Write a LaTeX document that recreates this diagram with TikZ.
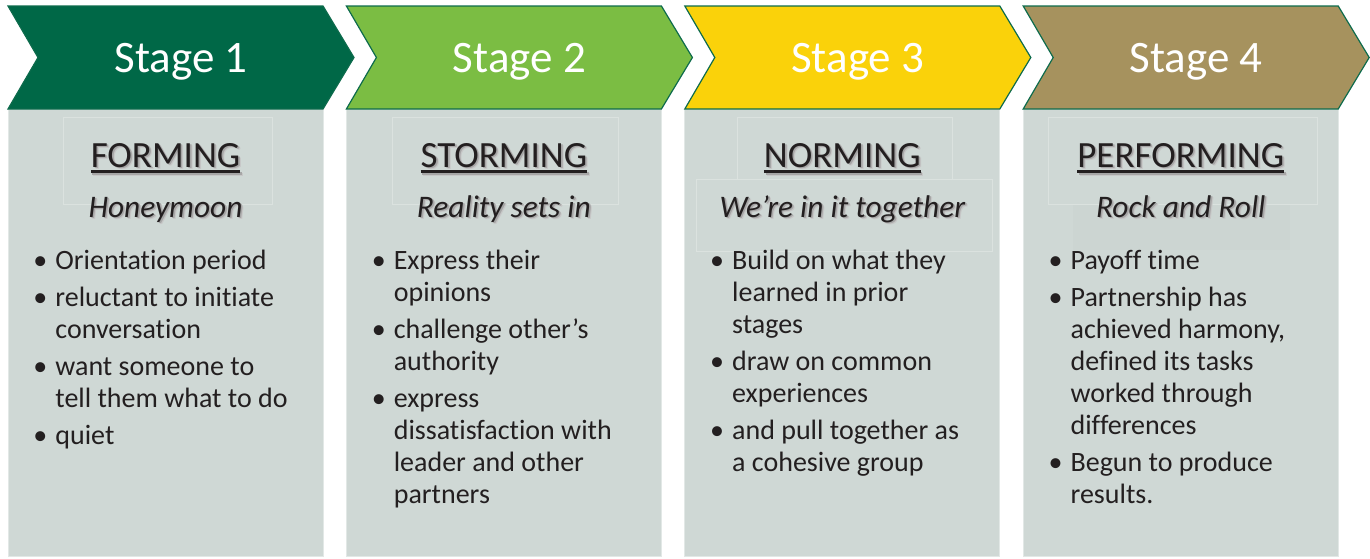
\documentclass[tikz,border=0pt]{standalone}
\usepackage{fontspec}
\setmainfont{Carlito}[Ligatures={TeX,NoCommon}]

\definecolor{stageA}{RGB}{0,104,71}
\definecolor{stageB}{RGB}{123,189,67}
\definecolor{stageC}{RGB}{250,210,10}
\definecolor{stageD}{RGB}{166,146,94}
\definecolor{edge}{RGB}{13,107,76}
\definecolor{panelgray}{RGB}{207,216,213}
\definecolor{ink}{RGB}{35,31,32}

\def\stagew{315}     % width of one column
\def\stagestep{338.4} % distance from one column to the next

% soft drop shadow behind a piece of text
\newcommand\softshadow[1]{\leavevmode
  \rlap{\kern1.3pt\raisebox{-1.3pt}{\textcolor{black!22}{#1}}}%
  \rlap{\kern0.8pt\raisebox{-0.8pt}{\textcolor{black!35}{#1}}}#1}
% thick rule under a title
\newcommand\titlerule[1]{\setbox0\hbox{#1}\rlap{\rule[-3pt]{\wd0}{1.5pt}}\box0}

% bullet points, one macro per column
\def\itemsA{\textbullet & Orientation period\\[2.5pt]
  \textbullet & reluctant to initiate\\ & conversation\\[2.5pt]
  \textbullet & want someone to\\ & tell them what to do\\[2.5pt]
  \textbullet & quiet}
\def\itemsB{\textbullet & Express their\\ & opinions\\[2.5pt]
  \textbullet & challenge other’s\\ & authority\\[2.5pt]
  \textbullet & express\\ & dissatisfaction with\\ & leader and other\\ & partners}
\def\itemsC{\textbullet & Build on what they\\ & learned in prior\\ & stages\\[2.5pt]
  \textbullet & draw on common\\ & experiences\\[2.5pt]
  \textbullet & and pull together as\\ & a cohesive group}
\def\itemsD{\textbullet & Payoff time\\[2.5pt]
  \textbullet & Partnership has\\ & achieved harmony,\\ & defined its tasks\\
    & worked through\\ & differences\\[2.5pt]
  \textbullet & Begun to produce\\ & results.}

\tikzset{
  chevron/.style={draw=edge, line width=0.6pt},
  panel/.style={fill=panelgray, draw=panelgray!60!white, line width=0.5pt},
  ghost/.style={draw=panelgray!75!white, line width=0.4pt},
  stagelabel/.style={text=white, inner sep=0, anchor=base,
    font=\fontsize{22.5}{26}\selectfont},
  phase/.style={text=ink, inner sep=0, anchor=base,
    font=\fontsize{18.5}{22}\selectfont},
  motto/.style={text=ink, inner sep=0, anchor=base,
    font=\fontsize{15.7}{18}\itshape\selectfont},
  bullets/.style={text=ink, inner sep=0, anchor=base west,
    font=\fontsize{14}{16}\selectfont}
}

\begin{document}
\begin{tikzpicture}[x=0.5pt, y=-0.5pt]
  \useasboundingbox (0,0) rectangle (1370,558);

  % grey columns and the arrow heads on top of them
  \foreach \n/\fillcol in {1/stageA, 2/stageB, 3/stageC, 4/stageD} {
    \pgfmathsetmacro\L{8+\stagestep*(\n-1)}
    \draw[panel] (\L,109) rectangle (\L+\stagew,556);
    \draw[chevron, fill=\fillcol] (\L,6) -- (\L+\stagew,6) -- (\L+\stagew+31,57.5)
      -- (\L+\stagew,109) -- (\L,109) -- (\L+30,57.5) -- cycle;
  }

  % faint frames left around the headings
  \draw[ghost] (63,117) rectangle (272,204);
  \draw[ghost] (392,117) rectangle (618,204);
  \draw[ghost] (737,117) rectangle (952,179);
  \draw[ghost] (696,179) rectangle (992,251);
  \draw[ghost] (1048,117) rectangle (1317,204);
  \fill[panelgray!98.5!black] (1073,205) rectangle (1290,250);

  % texts of each column
  \foreach \n/\title/\motto/\items in {
      1/FORMING/Honeymoon/\itemsA,
      2/STORMING/Reality sets in/\itemsB,
      3/NORMING/We’re in it together/\itemsC,
      4/PERFORMING/Rock and Roll/\itemsD} {
    \pgfmathsetmacro\L{8+\stagestep*(\n-1)}
    \node[stagelabel] (stage\n) at (\L+173,72) {Stage \n};
    \node[phase] (title\n) at (\L+157.5,167) {\softshadow{\titlerule{\title}}};
    \node[motto] (motto\n) at (\L+157.5,217) {\softshadow{\motto}};
    \node[bullets] (items\n) at (\L+25,269)
      {\begin{tabular}[t]{@{}p{11pt}@{}l@{}}\items\end{tabular}};
  }
\end{tikzpicture}
\end{document}
